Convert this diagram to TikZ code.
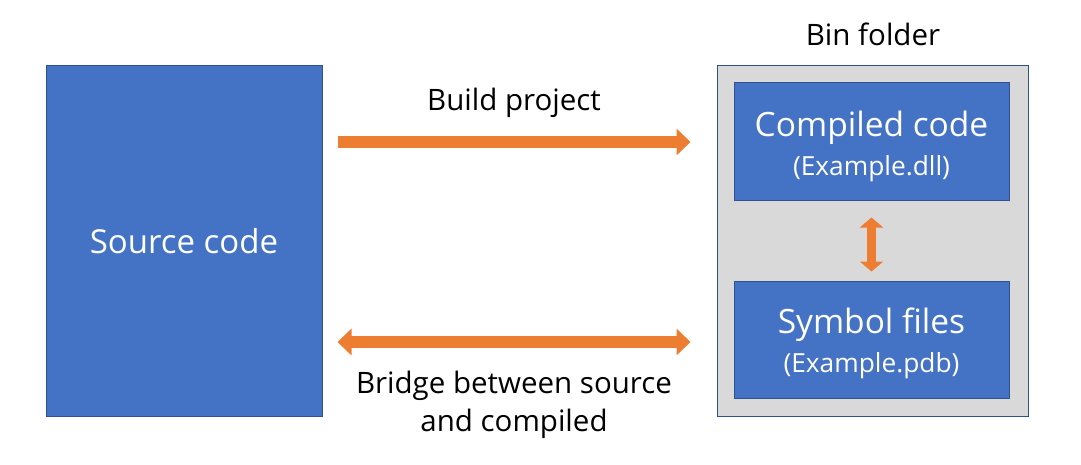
\documentclass[tikz,border=0pt]{standalone}
\usepackage{fontspec}
\setmainfont{Open Sans}
\usetikzlibrary{arrows.meta}
\definecolor{boxblue}{HTML}{4472C4}
\definecolor{boxline}{HTML}{2F528F}
\definecolor{bingrey}{HTML}{D9D9D9}
\definecolor{arroworange}{HTML}{ED7D31}
\tikzstyle{block} = [draw=boxline, line width=1pt, fill=boxblue, text=white, align=center, inner sep=0pt]
\tikzstyle{folder} = [draw=boxline, line width=1pt, fill=bingrey, inner sep=0pt]
\tikzstyle{caption} = [align=center, font=\fontsize{29.5}{38.5}\selectfont]
\tikzstyle{fat} = [draw=arroworange, line width=12pt, {Triangle[length=14pt,width=26pt]}-{Triangle[length=14pt,width=26pt]}]
\tikzstyle{fatone} = [draw=arroworange, line width=12pt, -{Triangle[length=14pt,width=26pt]}]
\tikzstyle{thin} = [draw=arroworange, line width=9pt, {Triangle[length=10pt,width=23pt]}-{Triangle[length=10pt,width=23pt]}]
\newcommand{\bigline}{\fontsize{33.5}{39}\selectfont}
\newcommand{\smallline}{\fontsize{26.3}{39}\selectfont}
\newcommand{\toppad}{\rule{0pt}{34pt}}

\begin{document}
\begin{tikzpicture}[x=1pt, y=-1pt]
  \useasboundingbox (0,0) rectangle (1081,465);
  \node (src) at (184,241) [block, minimum width=276pt, minimum height=350pt, font=\fontsize{33}{40}\selectfont] {Source code};
  \node (bin) at (872.5,241) [folder, minimum width=311pt, minimum height=350pt] {};
  \node (cc) at (871.5,142) [block, minimum width=275pt, minimum height=118pt, font=\bigline] {\toppad Compiled code\\\smallline (Example.dll)};
  \node (sym) at (871.5,339.5) [block, minimum width=275pt, minimum height=117pt, font=\bigline] {\toppad Symbol files\\\smallline (Example.pdb)};

  \node (binlbl) at (873,34) [caption] {Bin folder};
  \node (buildlbl) at (514,103) [caption] {Build project};
  \node (bridgelbl) at (514,405) [caption] {Bridge between source\\and compiled};

  \draw [fatone, shorten <=15pt, shorten >=26pt] (src.east |- cc.center) -- (bin.west |- cc.center);
  \draw [fat, shorten <=15pt, shorten >=26pt] (src.east |- 0,342) -- (bin.west |- 0,342);
  \draw [thin, shorten <=16pt, shorten >=9pt] (cc.south) -- (sym.north);
\end{tikzpicture}
\end{document}
